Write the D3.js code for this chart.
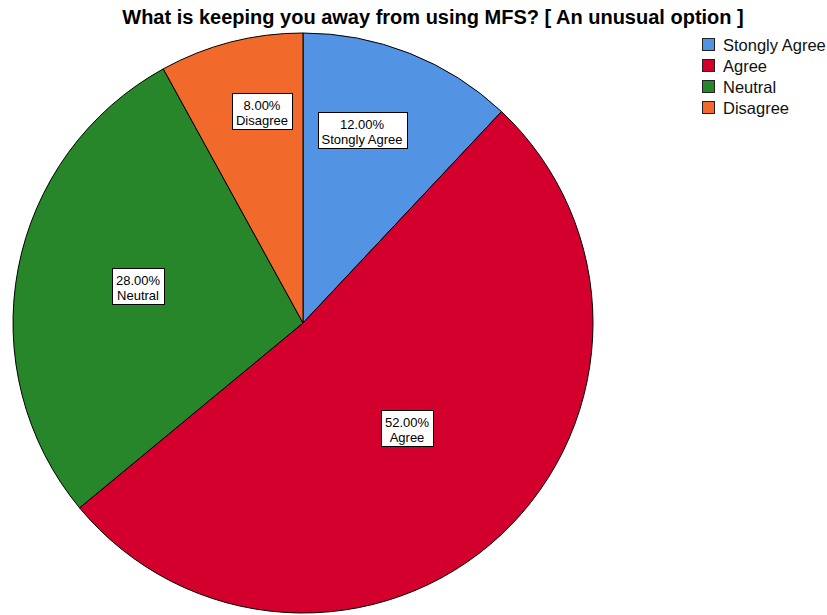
<!DOCTYPE html>
<html>
<head>
<meta charset="utf-8">
<script src="https://cdn.jsdelivr.net/npm/d3@7/dist/d3.min.js"></script>
<style>
  html, body { margin: 0; padding: 0; background: #ffffff; }
  svg { display: block; }
</style>
</head>
<body>
<script>
// Survey responses
const categories = ["Stongly Agree", "Agree", "Neutral", "Disagree"];
const percents = [12, 52, 28, 8];
const colors = ["#5293e3", "#d3002e", "#27862a", "#f16a2b"];
const title = "What is keeping you away from using MFS? [ An unusual option ]";

// Layout
const W = 827, H = 615;
const cx = 303, cy = 323, R = 290;
// label placement: fraction of radius and angular nudge (degrees) per slice
const labelRadius = [0.694, 0.512, 0.581, 0.741];
const labelNudge = [-4.6, -1.5, 1.5, 3.5];

const FONT = "Liberation Sans, Arial, sans-serif";

const svg = d3.select("body").append("svg")
  .attr("width", W).attr("height", H);

svg.append("text")
  .attr("x", 433).attr("y", 24)
  .attr("text-anchor", "middle")
  .attr("font-family", FONT)
  .attr("font-weight", "bold")
  .attr("font-size", 20)
  .attr("fill", "#000")
  .text(title);

const data = categories.map((c, i) => ({ cat: c, value: percents[i], color: colors[i], i }));

const pie = d3.pie().sort(null).value(d => d.value).startAngle(0).endAngle(2 * Math.PI);
const arcs = pie(data);
const arc = d3.arc().innerRadius(0).outerRadius(R);

const g = svg.append("g").attr("transform", `translate(${cx},${cy})`);

g.selectAll("path.slice")
  .data(arcs)
  .join("path")
  .attr("class", "slice")
  .attr("d", arc)
  .attr("fill", d => d.data.color)
  .attr("stroke", "#000")
  .attr("stroke-width", 1)
  .attr("stroke-linejoin", "round");

// value labels inside boxes, one text per line
const fmt = d3.format(".2f");
const labels = g.selectAll("g.lbl")
  .data(arcs)
  .join("g")
  .attr("class", "lbl")
  .attr("transform", d => {
    const a = (d.startAngle + d.endAngle) / 2 + labelNudge[d.data.i] * Math.PI / 180;
    const r = labelRadius[d.data.i] * R;
    return `translate(${Math.round(r * Math.sin(a))},${Math.round(-r * Math.cos(a))})`;
  });

labels.each(function(d) {
  const sel = d3.select(this);
  const lines = [fmt(d.data.value) + "%", d.data.cat];
  const ys = [-2.5, 12.5];
  const texts = lines.map((s, k) => sel.append("text")
    .attr("x", 0).attr("y", ys[k])
    .attr("text-anchor", "middle")
    .attr("font-family", FONT)
    .attr("font-size", 13)
    .attr("fill", "#000")
    .text(s));
  const w = d3.max(texts, t => t.node().getComputedTextLength());
  sel.insert("rect", "text")
    .attr("x", Math.round(-w / 2 - 4) + 0.5)
    .attr("y", -18.5)
    .attr("width", Math.round(w + 8))
    .attr("height", 36)
    .attr("fill", "#fff")
    .attr("stroke", "#000")
    .attr("stroke-width", 1);
});

// legend
const legend = svg.append("g").attr("transform", "translate(702,38)");
const items = legend.selectAll("g.item")
  .data(data)
  .join("g")
  .attr("class", "item")
  .attr("transform", (d, i) => `translate(0,${i * 21})`);
items.append("rect")
  .attr("x", 0.5).attr("y", 0.5)
  .attr("width", 12).attr("height", 12)
  .attr("fill", d => d.color)
  .attr("stroke", "#222")
  .attr("stroke-width", 1);
items.append("text")
  .attr("x", 21).attr("y", 13)
  .attr("font-family", FONT)
  .attr("font-size", 16.5)
  .attr("fill", "#111")
  .text(d => d.cat);
</script>
</body>
</html>
